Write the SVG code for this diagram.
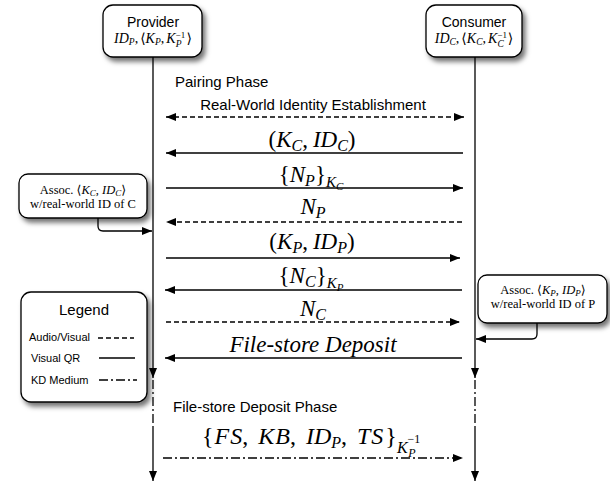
<svg xmlns="http://www.w3.org/2000/svg" width="610" height="483" viewBox="0 0 610 483">
<style>
.sans{font-family:"Liberation Sans",Arial,sans-serif;fill:#000}
.math{font-family:"Liberation Serif","DejaVu Serif",serif;fill:#000}
.i{font-style:italic}
.box{fill:#fff;stroke:#000;stroke-width:1.3;filter:url(#sh)}
.ln{fill:none;stroke:#000;stroke-width:1.3}
.dash{stroke-dasharray:5 3}
.dd{stroke-dasharray:9 3 2 3}
</style>
<defs>
<filter id="sh" x="-20%" y="-20%" width="150%" height="160%">
<feDropShadow dx="3" dy="4" stdDeviation="2.5" flood-color="#000" flood-opacity="0.55"/>
</filter>
<marker id="ah" viewBox="0 0 10 8" refX="10" refY="4" markerWidth="10" markerHeight="8" markerUnits="userSpaceOnUse" orient="auto-start-reverse">
<path d="M0,0 L10,4 L0,8 z" fill="#000"/>
</marker>
</defs>

<g id="provider">
<rect class="box" x="103" y="5" width="99" height="52" rx="10"/>
<text class="sans" x="153" y="27" font-size="14" text-anchor="middle">Provider</text>
<text class="math" x="153" y="43" font-size="14" text-anchor="middle"><tspan class="i">ID</tspan><tspan class="i" font-size="9.5" dy="2">P</tspan><tspan dy="-2">,</tspan><tspan dx="2">⟨</tspan><tspan class="i">K</tspan><tspan class="i" font-size="9.5" dy="2">P</tspan><tspan dy="-2">,</tspan><tspan dx="2" class="i">K</tspan><tspan font-size="9" dy="-5">−1</tspan><tspan class="i" font-size="9.5" dx="-9.5" dy="9">P</tspan><tspan dx="5" dy="-4">⟩</tspan></text>
</g>

<g id="consumer">
<rect class="box" x="426" y="5" width="96" height="52" rx="10"/>
<text class="sans" x="474" y="27" font-size="14" text-anchor="middle">Consumer</text>
<text class="math" x="474" y="43" font-size="14" text-anchor="middle"><tspan class="i">ID</tspan><tspan class="i" font-size="9.5" dy="2">C</tspan><tspan dy="-2">,</tspan><tspan dx="2">⟨</tspan><tspan class="i">K</tspan><tspan class="i" font-size="9.5" dy="2">C</tspan><tspan dy="-2">,</tspan><tspan dx="2" class="i">K</tspan><tspan font-size="9" dy="-5">−1</tspan><tspan class="i" font-size="9.5" dx="-9.5" dy="9">C</tspan><tspan dx="4" dy="-4">⟩</tspan></text>
</g>

<g id="assoc-c">
<rect class="box" x="19" y="174" width="128" height="44" rx="9"/>
<text class="math" x="83" y="194" font-size="12.5" text-anchor="middle">Assoc. ⟨<tspan class="i">K</tspan><tspan class="i" font-size="9" dy="2">C</tspan><tspan dy="-2">, </tspan><tspan class="i">ID</tspan><tspan class="i" font-size="9" dy="2">C</tspan><tspan dy="-2">⟩</tspan></text>
<text class="math" x="83" y="208" font-size="12.5" text-anchor="middle">w/real-world ID of C</text>
</g>

<g id="assoc-p">
<rect class="box" x="478" y="275" width="129" height="48" rx="9"/>
<text class="math" x="543" y="294" font-size="12.5" text-anchor="middle">Assoc. ⟨<tspan class="i">K</tspan><tspan class="i" font-size="9" dy="2">P</tspan><tspan dy="-2">, </tspan><tspan class="i">ID</tspan><tspan class="i" font-size="9" dy="2">P</tspan><tspan dy="-2">⟩</tspan></text>
<text class="math" x="543" y="308" font-size="12.5" text-anchor="middle">w/real-world ID of P</text>
</g>

<g id="legend">
<rect class="box" x="21" y="292" width="126" height="110" rx="10"/>
<text class="sans" x="84" y="315" font-size="15" text-anchor="middle">Legend</text>
<text class="sans" x="29" y="341" font-size="11">Audio/Visual</text>
<text class="sans" x="31" y="362" font-size="11">Visual QR</text>
<text class="sans" x="31" y="384" font-size="11">KD Medium</text>
<line class="ln dash" x1="98" y1="338" x2="134" y2="338"/>
<line class="ln" x1="99" y1="358" x2="135" y2="358"/>
<line class="ln dd" x1="99" y1="380" x2="137" y2="380"/>
</g>

<g id="labels">
<text class="sans" x="175" y="87" font-size="15">Pairing Phase</text>
<text class="sans" x="313" y="110" font-size="15" text-anchor="middle">Real-World Identity Establishment</text>
<text class="sans" x="173" y="412" font-size="15">File-store Deposit Phase</text>
<text class="math" x="312" y="147" font-size="23" text-anchor="middle">(<tspan class="i">K</tspan><tspan class="i" font-size="16" dy="4">C</tspan><tspan dy="-4">,</tspan><tspan dx="5" class="i">ID</tspan><tspan class="i" font-size="16" dy="4">C</tspan><tspan dy="-4">)</tspan></text>
<text class="math" x="311" y="182" font-size="23" text-anchor="middle">{<tspan class="i">N</tspan><tspan class="i" font-size="16" dy="4">P</tspan><tspan dy="-4">}</tspan><tspan class="i" font-size="15" dy="5">K</tspan><tspan class="i" font-size="11" dy="3">C</tspan></text>
<text class="math" x="313" y="214" font-size="23" text-anchor="middle"><tspan class="i">N</tspan><tspan class="i" font-size="16" dy="4">P</tspan></text>
<text class="math" x="312" y="249" font-size="23" text-anchor="middle">(<tspan class="i">K</tspan><tspan class="i" font-size="16" dy="4">P</tspan><tspan dy="-4">,</tspan><tspan dx="5" class="i">ID</tspan><tspan class="i" font-size="16" dy="4">P</tspan><tspan dy="-4">)</tspan></text>
<text class="math" x="311" y="283" font-size="23" text-anchor="middle">{<tspan class="i">N</tspan><tspan class="i" font-size="16" dy="4">C</tspan><tspan dy="-4">}</tspan><tspan class="i" font-size="15" dy="5">K</tspan><tspan class="i" font-size="11" dy="3">P</tspan></text>
<text class="math" x="313" y="316" font-size="23" text-anchor="middle"><tspan class="i">N</tspan><tspan class="i" font-size="16" dy="4">C</tspan></text>
<text class="math i" x="313" y="352" font-size="23" text-anchor="middle">File-store Deposit</text>
<text class="math" x="202" y="444" font-size="24">{<tspan class="i" dx="1">F</tspan><tspan class="i" dx="1">S</tspan>,<tspan dx="10" class="i">K</tspan><tspan class="i" dx="1">B</tspan>,<tspan dx="10" class="i">ID</tspan><tspan class="i" font-size="16" dy="4">P</tspan><tspan dy="-4">,</tspan><tspan dx="10" class="i">T</tspan><tspan class="i" dx="1">S</tspan><tspan dx="2">}</tspan><tspan class="i" font-size="16" dy="9">K</tspan><tspan font-size="12" dy="-10">−1</tspan><tspan class="i" font-size="12" dx="-12" dy="14">P</tspan></text>
</g>

<g id="connectors">
<line class="ln" x1="153" y1="57" x2="153" y2="378" marker-end="url(#ah)"/>
<line class="ln dd" x1="153" y1="380" x2="153" y2="427"/>
<line class="ln" x1="153" y1="427" x2="153" y2="481" marker-end="url(#ah)"/>
<line class="ln" x1="475" y1="57" x2="475" y2="378" marker-end="url(#ah)"/>
<line class="ln dd" x1="475" y1="380" x2="475" y2="427"/>
<line class="ln" x1="475" y1="427" x2="475" y2="481" marker-end="url(#ah)"/>

<line class="ln dash" x1="166" y1="117" x2="464" y2="117" marker-start="url(#ah)" marker-end="url(#ah)"/>
<line class="ln" x1="463" y1="153" x2="166" y2="153" marker-end="url(#ah)"/>
<line class="ln" x1="166" y1="188" x2="463" y2="188" marker-end="url(#ah)"/>
<line class="ln dash" x1="462" y1="222" x2="166" y2="222" marker-end="url(#ah)"/>
<line class="ln" x1="166" y1="258" x2="460" y2="258" marker-end="url(#ah)"/>
<line class="ln" x1="462" y1="290" x2="165" y2="290" marker-end="url(#ah)"/>
<line class="ln dash" x1="166" y1="322" x2="460" y2="322" marker-end="url(#ah)"/>
<line class="ln" x1="462" y1="358" x2="165" y2="358" marker-end="url(#ah)"/>
<line class="ln dd" x1="163" y1="458" x2="463" y2="458" marker-end="url(#ah)"/>

<path class="ln" d="M98,218 L98,226 Q98,231 103,231 L152,231" marker-end="url(#ah)"/>
<path class="ln" d="M537,323 L537,334 Q537,339 532,339 L476,339" marker-end="url(#ah)"/>
</g>
</svg>
